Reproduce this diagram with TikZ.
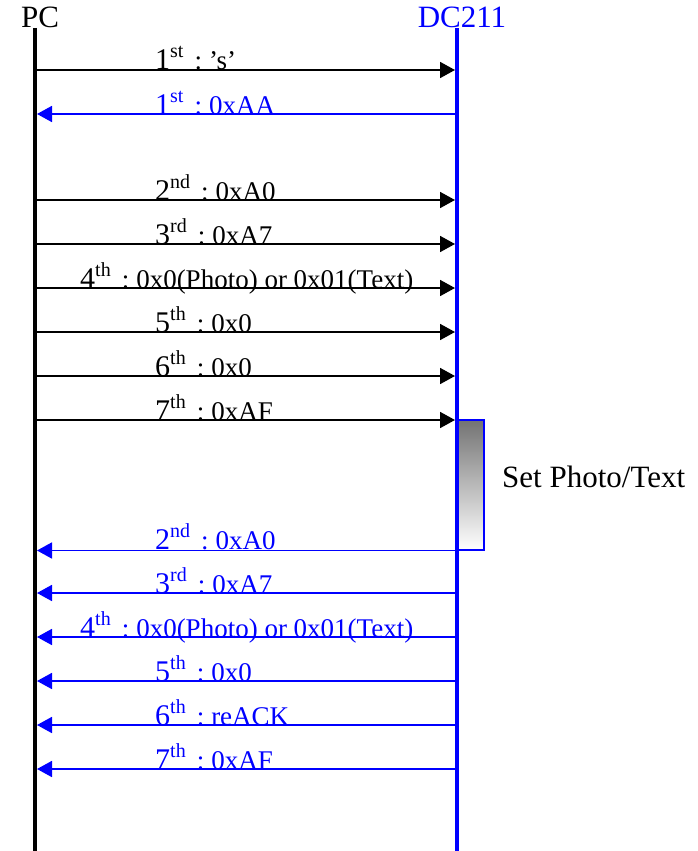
\documentclass[tikz,border=0pt]{standalone}
\usepackage{fontspec}
\setmainfont{Liberation Serif}
\usetikzlibrary{arrows.meta}
\definecolor{dcblue}{RGB}{0,0,255}
\newcommand\msglbl[3]{{\fontsize{30}{30}\selectfont #1}\raisebox{12pt}{\fontsize{20}{20}\selectfont #2}\hspace{11pt}{\fontsize{27}{27}\selectfont :\hspace{7pt}#3}}
\begin{document}
\begin{tikzpicture}[x=1pt,y=-1pt,
  life/.style={line width=4pt},
  msg/.style={line width=1.8pt,-{Triangle[length=15pt,width=16pt]}},
  bmsg/.style={msg,dcblue},
  lbl/.style={anchor=base west,inner sep=0pt},
  blbl/.style={lbl,text=dcblue},
  big/.style={font=\fontsize{31}{31}\selectfont,anchor=base,inner sep=0pt}]
\useasboundingbox (0,0) rectangle (697,851);
% titles
\node[big] (pc) at (40,28) {PC};
\node[big,text=dcblue] (dc) at (462,28) {DC211};
% activation box
\node[draw=dcblue,line width=1.5pt,top color=black!55,bottom color=white,
      minimum width=26pt,minimum height=130pt,inner sep=0pt,anchor=north west] (act) at (457,419) {};
\node[font=\fontsize{31}{31}\selectfont,anchor=base west,inner sep=0pt] (acttxt) at (502,487) {Set Photo/Text};
% lifelines
\coordinate (pctop) at (35,28); \coordinate (pcbot) at (35,851);
\coordinate (dctop) at (457,28); \coordinate (dcbot) at (457,851);
\draw[life] (pctop) -- (pcbot);
\draw[life,dcblue] (dctop) -- (dcbot);
% message end points
\foreach \i/\y in {1/70,2/114,3/200,4/244,5/288,6/332,7/376,8/420,10/593,11/637,12/681,13/725,14/769}{
  \coordinate (a\i) at (37,\y);
  \coordinate (b\i) at (455,\y);
}
\coordinate (b9) at (act.south east);
\coordinate (a9) at (b9 -| a1);
% messages
\draw[msg] (a1) -- (b1);
\draw[bmsg] (b2) -- (a2);
\draw[msg] (a3) -- (b3);
\draw[msg] (a4) -- (b4);
\draw[msg] (a5) -- (b5);
\draw[msg] (a6) -- (b6);
\draw[msg] (a7) -- (b7);
\draw[msg] (a8) -- (b8);
\draw[bmsg] (b9) -- (a9);
\draw[bmsg] (b10) -- (a10);
\draw[bmsg] (b11) -- (a11);
\draw[bmsg] (b12) -- (a12);
\draw[bmsg] (b13) -- (a13);
\draw[bmsg] (b14) -- (a14);
% labels
\node[lbl] (l1) at (155,70) {\msglbl{1}{st}{’s’}};
\node[blbl] (l2) at (155,114) {\msglbl{1}{st}{0xAA}};
\node[lbl] (l3) at (155,200) {\msglbl{2}{nd}{0xA0}};
\node[lbl] (l4) at (155,244) {\msglbl{3}{rd}{0xA7}};
\node[lbl] (l5) at (80,288) {\msglbl{4}{th}{0x0(Photo) or 0x01(Text)}};
\node[lbl] (l6) at (155,332) {\msglbl{5}{th}{0x0}};
\node[lbl] (l7) at (155,376) {\msglbl{6}{th}{0x0}};
\node[lbl] (l8) at (155,420) {\msglbl{7}{th}{0xAF}};
\node[blbl] (l9) at (155,549) {\msglbl{2}{nd}{0xA0}};
\node[blbl] (l10) at (155,593) {\msglbl{3}{rd}{0xA7}};
\node[blbl] (l11) at (80,637) {\msglbl{4}{th}{0x0(Photo) or 0x01(Text)}};
\node[blbl] (l12) at (155,681) {\msglbl{5}{th}{0x0}};
\node[blbl] (l13) at (155,725) {\msglbl{6}{th}{reACK}};
\node[blbl] (l14) at (155,769) {\msglbl{7}{th}{0xAF}};
\end{tikzpicture}
\end{document}
